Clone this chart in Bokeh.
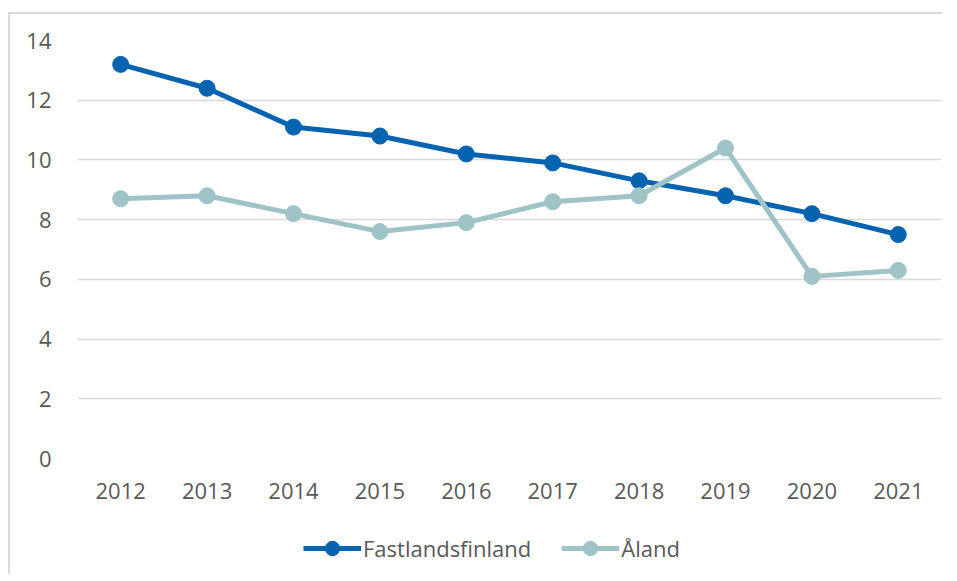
from bokeh.plotting import figure
from bokeh.models import Range1d, Legend, LegendItem, FixedTicker
from bokeh.layouts import column
from bokeh.embed import file_html
from bokeh.resources import INLINE

years = ["2012", "2013", "2014", "2015", "2016", "2017", "2018", "2019", "2020", "2021"]
fastland = [13.2, 12.4, 11.1, 10.8, 10.2, 9.9, 9.3, 8.8, 8.2, 7.5]
aland = [8.7, 8.8, 8.2, 7.6, 7.9, 8.6, 8.8, 10.4, 6.1, 6.3]
y_ticks = [0, 2, 4, 6, 8, 10, 12, 14]

FONT = "Open Sans"
TXT = "#595959"
BLUE = "#0563b0"
TEAL = "#9fc3c6"
W = 932

p = figure(width=W, height=510, x_range=years, y_range=Range1d(0, 14),
           output_backend="svg", toolbar_location=None,
           min_border_left=67, min_border_right=1, min_border_top=26, min_border_bottom=66)
p.outline_line_color = None
p.background_fill_color = "white"
p.border_fill_color = "white"

p.xgrid.grid_line_color = None
p.ygrid.grid_line_color = "#d9d9d9"
p.ygrid.grid_line_width = 1.5
p.yaxis.ticker = FixedTicker(ticks=y_ticks)

for ax in (p.xaxis[0], p.yaxis[0]):
    ax.axis_line_color = None
    ax.major_tick_line_color = None
    ax.minor_tick_line_color = None
    ax.major_label_text_font = FONT
    ax.major_label_text_font_size = "22px"
    ax.major_label_text_color = TXT
p.yaxis.major_label_standoff = 20
p.xaxis.major_label_standoff = 18

p.line(years, fastland, line_color=BLUE, line_width=5)
p.scatter(years, fastland, size=16, fill_color=BLUE, line_color=BLUE)
p.line(years, aland, line_color=TEAL, line_width=5)
p.scatter(years, aland, size=16, fill_color=TEAL, line_color=TEAL)

# legend strip: same series, drawn out of view, only their legend shows
q = figure(width=W, height=50, x_range=years, y_range=Range1d(100, 101),
           output_backend="svg", toolbar_location=None,
           min_border_left=67, min_border_right=1, min_border_top=0, min_border_bottom=0)
q.outline_line_color = None
q.axis.visible = False
q.grid.grid_line_color = None
l1 = q.line(years, fastland, line_color=BLUE, line_width=5)
c1 = q.scatter(years, fastland, size=16, fill_color=BLUE, line_color=BLUE)
l2 = q.line(years, aland, line_color=TEAL, line_width=5)
c2 = q.scatter(years, aland, size=16, fill_color=TEAL, line_color=TEAL)

legend = Legend(items=[LegendItem(label="Fastlandsfinland", renderers=[l1, c1]),
                       LegendItem(label="Åland", renderers=[l2, c2])],
                orientation="horizontal", location=(226, 8))
legend.label_text_font = FONT
legend.label_text_font_size = "22px"
legend.label_text_color = TXT
legend.glyph_width = 58
legend.glyph_height = 36
legend.label_standoff = 2
legend.spacing = 30
legend.border_line_color = None
legend.background_fill_alpha = 0
legend.margin = 0
legend.padding = 0
q.add_layout(legend, "center")

layout = column(p, q, spacing=0,
                styles={"border-left": "2px solid #d9d9d9", "border-top": "2px solid #d9d9d9",
                        "margin-left": "8px", "margin-top": "12px"})

open("out.html", "w").write(file_html(layout, INLINE))
